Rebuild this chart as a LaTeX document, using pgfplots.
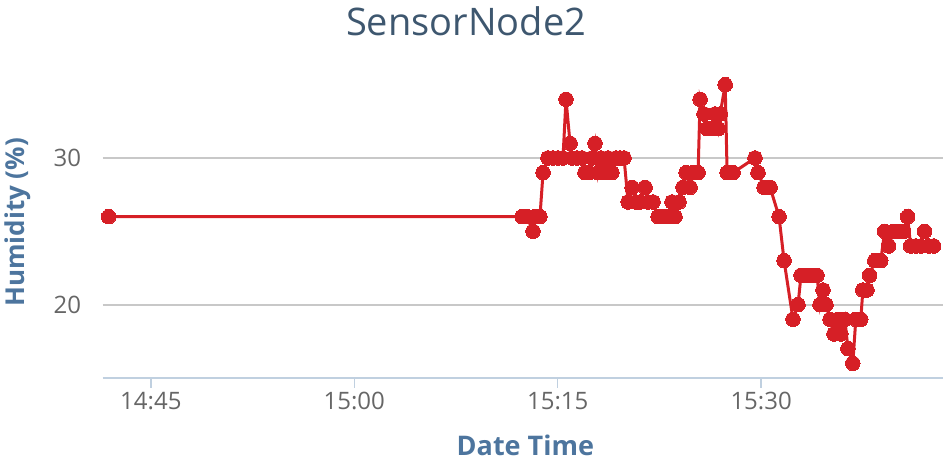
\documentclass[border=0pt]{standalone}
\usepackage{pgfplots}
\pgfplotsset{compat=1.18}
\usepackage{fontspec}
\setmainfont{Open Sans}
\definecolor{linered}{RGB}{214,31,38}
\definecolor{gridgray}{RGB}{200,200,200}
\definecolor{axiscol}{RGB}{192,208,224}
\definecolor{labcol}{RGB}{77,117,158}
\definecolor{titcol}{RGB}{62,87,111}
\definecolor{tickcol}{RGB}{102,102,102}
\begin{document}
\begin{tikzpicture}[x=1pt,y=1pt]
\path[use as bounding box] (0,0) rectangle (950,462);
\begin{axis}[
  at={(102.7pt,84pt)}, anchor=south west,
  scale only axis, width=840.3pt, height=308pt,
  xmin=-18.55, xmax=43.41, ymin=15, ymax=36,
  axis x line*=bottom, axis y line*=left,
  y axis line style={draw=none},
  x axis line style={draw=axiscol, line width=2pt, -},
  xtick={-15,0,15,30}, xticklabels={14:45,15:00,15:15,15:30},
  ytick={20,30},
  tick align=outside, major tick length=10pt,
  xtick style={draw=axiscol, line width=1.5pt},
  ytick style={draw=none},
  ymajorgrids, grid style={draw=gridgray, line width=2pt},
  /pgf/number format/assume math mode=true,
  ticklabel style={font=\fontsize{24}{28}\selectfont, text=tickcol},
  xticklabel style={anchor=north, yshift=-1pt},
  yticklabel style={anchor=east, xshift=-8pt},
  title={SensorNode2},
  title style={at={(axis description cs:0.4324,1.1396)}, anchor=center, font=\fontsize{38}{44}\selectfont, text=titcol},
  xlabel={Date Time},
  xlabel style={at={(axis description cs:0.503,-0.2175)}, anchor=center, font=\fontsize{27}{32}\selectfont\bfseries, text=labcol},
  ylabel={Humidity (\%)},
  ylabel style={at={(axis description cs:-0.1008,0.505)}, anchor=center, rotate=0, font=\fontsize{26}{30}\selectfont\bfseries, text=labcol},
  clip=false,
]
\addplot[color=linered, line width=3pt, mark=*, mark size=7.3pt, mark options={fill=linered, draw=linered, line width=0pt}] coordinates {
(-18.11,26) (12.37,26) (12.73,26) (13.18,25) (13.33,26) (13.69,26) (13.92,29)
(14.28,30) (14.65,30) (15.02,30) (15.39,30) (15.61,34) (15.91,31) (16.05,30)
(16.42,30) (16.79,30) (17.01,29) (17.31,29) (17.53,30) (17.75,31) (17.97,29)
(18.19,30) (18.42,29) (18.71,30) (19.00,29) (19.30,30) (19.60,30) (19.89,30)
(20.19,27) (20.48,28) (20.78,27) (21.07,27) (21.44,28) (21.66,27) (22.03,27)
(22.40,26) (22.77,26) (23.13,26) (23.43,27) (23.65,26) (23.95,27) (24.24,28)
(24.47,29) (24.76,28) (24.98,29) (25.35,29) (25.50,34) (25.79,33) (26.01,32)
(26.31,32) (26.61,33) (26.83,32) (26.98,33) (27.35,35) (27.49,29) (27.93,29)
(29.55,30) (29.77,29) (30.22,28) (30.66,28) (31.32,26) (31.69,23) (32.35,19)
(32.72,20) (32.94,22) (33.31,22) (33.75,22) (34.12,22) (34.34,20) (34.56,21)
(34.78,20) (35.08,19) (35.37,18) (35.66,19) (35.88,18) (36.17,19) (36.40,17)
(36.76,16) (36.98,19) (37.35,19) (37.50,21) (37.80,21) (38.00,22) (38.38,23)
(38.82,23) (39.11,25) (39.40,24) (39.77,25) (40.22,25) (40.51,25) (40.80,26)
(41.02,24) (41.39,24) (41.76,24) (42.05,25) (42.35,24) (42.72,24)
};
\end{axis}
\end{tikzpicture}
\end{document}
